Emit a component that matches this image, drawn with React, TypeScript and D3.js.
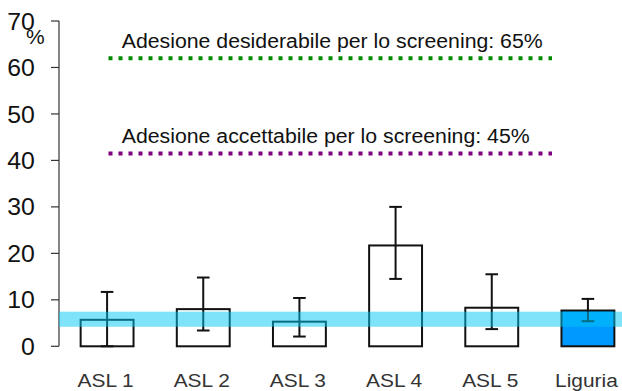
import React from "react";
import * as d3 from "d3";

const categories = ["ASL 1", "ASL 2", "ASL 3", "ASL 4", "ASL 5", "Liguria"];
const values = [5.7, 8.0, 5.3, 21.7, 8.3, 7.7];
const ciLow = [0, 3.4, 2.1, 14.5, 3.7, 5.4];
const ciHigh = [11.7, 14.8, 10.4, 30.0, 15.5, 10.2];
const highlighted = ["Liguria"];
const yTicks = [0, 10, 20, 30, 40, 50, 60, 70];
const bandRange = [4.2, 7.45];
const refLabels = [
  "Adesione desiderabile per lo screening: 65%",
  "Adesione accettabile per lo screening: 45%",
];
const refValues = [62.0, 41.5];
const refColors = ["#008a00", "#800080"];
const refTextLengths = [421, 408];

const W = 622;
const H = 391;

export default function App() {
  const y = d3.scaleLinear().domain([0, 70]).range([346.3, 21]);
  const x = d3
    .scaleBand<string>()
    .domain(categories)
    .range([59, 636])
    .paddingInner(0.45)
    .paddingOuter(0.225);
  const bw = x.bandwidth();
  const font = "'Liberation Sans', Arial, sans-serif";

  return (
    <svg
      width={W}
      height={H}
      style={{ position: "absolute", left: 0, top: 0, background: "#fff" }}
      fontFamily={font}
    >
      <rect x={0} y={0} width={W} height={H} fill="#fff" />
      {/* y axis */}
      <line x1={59} x2={59} y1={y(70)} y2={y(0)} stroke="#333" strokeWidth={1.2} />
      {yTicks.map((t) => (
        <g key={t}>
          <line x1={51} x2={59} y1={y(t)} y2={y(t)} stroke="#333" strokeWidth={1.2} />
          <text
            transform={`translate(34.8,${y(t) + 8.6}) scale(1.08,1)`}
            textAnchor="end"
            fontSize={23}
            fill="#111"
          >
            {t}
          </text>
        </g>
      ))}
      <text transform="translate(26,43.5) scale(1.05,1)" fontSize={20} fill="#111">
        %
      </text>

      {/* bars */}
      {categories.map((c, i) => (
        <rect
          key={c}
          x={x(c)!}
          y={y(values[i])}
          width={bw}
          height={y(0) - y(values[i])}
          fill={highlighted.includes(c) ? "#0099ff" : "#fff"}
          stroke="#111"
          strokeWidth={2}
        />
      ))}
      {/* error bars */}
      {categories.map((c, i) => {
        const cx = x(c)! + bw / 2;
        return (
          <g key={c} stroke="#111" strokeWidth={2}>
            <line x1={cx} x2={cx} y1={y(ciHigh[i])} y2={y(ciLow[i])} />
            <line x1={cx - 6.3} x2={cx + 6.3} y1={y(ciHigh[i])} y2={y(ciHigh[i])} />
            <line x1={cx - 6.3} x2={cx + 6.3} y1={y(ciLow[i])} y2={y(ciLow[i])} />
          </g>
        );
      })}

      {/* band overlay */}
      <rect
        x={59}
        y={y(bandRange[1])}
        width={W - 59}
        height={y(bandRange[0]) - y(bandRange[1])}
        fill="#00c8f5"
        opacity={0.5}
      />

      {/* reference lines */}
      {refValues.map((v, i) => (
        <g key={i}>
          <line
            x1={108.5}
            x2={552}
            y1={y(v)}
            y2={y(v)}
            stroke={refColors[i]}
            strokeWidth={4}
            strokeDasharray="4 6"
          />
          <text
            x={121.7}
            y={y(v) - 10.5}
            fontSize={20}
            fill="#111"
            textLength={refTextLengths[i]}
            lengthAdjust="spacingAndGlyphs"
          >
            {refLabels[i]}
          </text>
        </g>
      ))}

      {/* x labels */}
      {categories.map((c) => (
        <text
          key={c}
          transform={`translate(${x(c)! + bw / 2 - 1.5},386.7) scale(1.1,1)`}
          textAnchor="middle"
          fontSize={19}
          fill="#333"
        >
          {c}
        </text>
      ))}
    </svg>
  );
}
